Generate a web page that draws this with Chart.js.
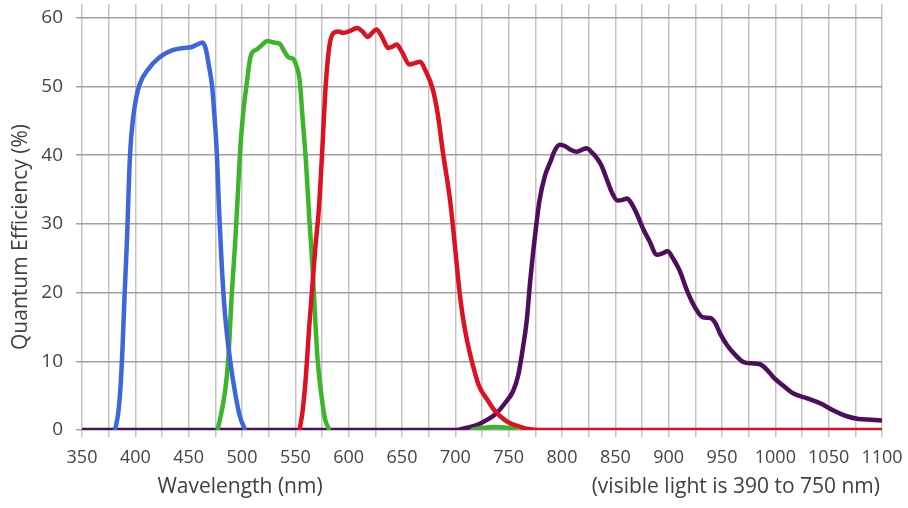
<!DOCTYPE html>
<html>
<head>
<meta charset="utf-8">
<script src="https://cdn.jsdelivr.net/npm/chart.js@4"></script>
<style>
  html, body { margin: 0; padding: 0; background: #fff; }
  #wrap { width: 908px; height: 508px; }
</style>
</head>
<body>
<div id="wrap"><canvas id="qeChart" width="908" height="508"></canvas></div>
<script>
// wavelength (nm) and quantum efficiency (%)
const blueNm = [381, 384, 386, 388, 390, 392, 395, 398, 401, 404, 411, 423, 435, 445, 452, 458, 463, 466, 469, 472, 474.5, 476.5, 478.5, 481, 484, 489, 494, 498, 503]
const blueQe = [0, 2.5, 6, 12, 20, 27, 40, 45.5, 48.5, 50.3, 52.3, 54.3, 55.3, 55.6, 55.7, 56.1, 56.4, 55.5, 53, 50, 45, 40, 32, 24, 17, 10, 5, 2, 0]

const greenNm = [477, 480, 484, 487, 490.5, 493.5, 496, 498, 501, 504.5, 507, 509, 514, 518.5, 524, 530, 535.5, 540, 544, 548, 551, 554, 557, 560, 563, 566, 568, 571, 575, 578, 582, 650, 715, 725, 738, 750, 758]
const greenQe = [0, 2, 5.5, 10, 20, 27, 34, 40, 46, 50.5, 53.5, 54.8, 55.4, 56, 56.6, 56.4, 56.2, 55, 54.2, 54, 53, 51, 45, 39, 31, 24, 18, 10, 4.4, 1.5, 0, null, 0, 0.3, 0.45, 0.3, 0]

const redNm = [554, 557, 560, 563, 566, 569, 572, 575, 578, 580.5, 583, 586, 590, 595, 600, 608, 613, 618, 622, 626, 631, 637, 641, 645, 650, 657, 662, 667, 672, 679, 684, 688, 695, 700, 704, 707, 711, 715.5, 722, 730, 736, 742, 750, 760, 770, 780, 1100]
const redQe = [0, 3, 8, 15, 21, 27, 32, 40, 49, 54, 56.8, 57.8, 58, 57.8, 58, 58.5, 58, 57.2, 57.8, 58.3, 57.3, 55.6, 55.8, 56.1, 55, 53.2, 53.4, 53.6, 52.3, 49.5, 45.5, 40.8, 33.5, 26.2, 20, 16.5, 13, 10, 6.5, 4.4, 3, 2, 1.1, 0.5, 0.1, 0, 0]

const purpleNm = [350, 700, 710, 720, 730, 739, 747, 754, 759, 763, 767, 770, 773, 776, 779, 784, 789, 793, 798, 803, 808, 814, 819, 823, 828, 833, 837, 842, 847, 852, 857, 861, 865, 870, 876, 882, 889, 894, 899, 904, 910, 918, 926, 932, 939, 944, 948, 955, 962, 970, 978, 985, 992, 998, 1007, 1017, 1030, 1042, 1055, 1067, 1078, 1090, 1100]
const purpleQe = [0, 0, 0.3, 0.7, 1.5, 2.5, 4, 5.6, 8, 11.6, 16, 21.4, 26, 30, 33.5, 37, 39, 40.6, 41.5, 41.3, 40.8, 40.5, 40.8, 41, 40.4, 39.5, 38.5, 36.5, 34.5, 33.4, 33.5, 33.7, 33, 31.5, 29.3, 27.5, 25.5, 25.7, 26, 25, 23.3, 20, 17.5, 16.4, 16.3, 15.5, 14.1, 12.3, 11, 9.9, 9.7, 9.6, 8.8, 7.7, 6.5, 5.3, 4.6, 3.9, 2.8, 2, 1.6, 1.5, 1.4]

const xMin = 350, xMax = 1100, xStep = 25, xLabelStep = 50
const yMin = 0, yMax = 62, yTickMax = 60, yStep = 10

const xTitle = "Wavelength (nm)"
const xNote = "(visible light is 390 to 750 nm)"
const yTitle = "Quantum Efficiency (%)"

const toPoints = (xs, ys) => xs.map((x, i) => ({ x: x, y: ys[i] }))

const fontFamily = "'Open Sans', 'Noto Sans', sans-serif"

// titles are placed by hand under the plot
const titlesPlugin = {
	id: "titles",
	afterDraw(chart) {
		const ctx = chart.ctx
		ctx.save()
		ctx.fillStyle = "#404040"
		ctx.font = "21px " + fontFamily
		ctx.textBaseline = "alphabetic"
		ctx.textAlign = "center"
		ctx.fillText(xTitle, 240, 493)
		ctx.textAlign = "right"
		ctx.fillText(xNote, 880, 493)
		ctx.translate(27, 237)
		ctx.rotate(-Math.PI / 2)
		ctx.textAlign = "center"
		ctx.fillText(yTitle, 0, 0)
		ctx.restore()
	},
}

const line = (pts, color, order) => ({
	data: pts,
	borderColor: color,
	borderWidth: 4.5,
	pointRadius: 0,
	fill: false,
	cubicInterpolationMode: "monotone",
	spanGaps: false,
	order: order,
})

new Chart(document.getElementById("qeChart").getContext("2d"), {
	type: "line",
	data: {
		datasets: [
			line(toPoints(redNm, redQe), "#dc1222", 0),
			line(toPoints(blueNm, blueQe), "#3d66dc", 1),
			line(toPoints(greenNm, greenQe), "#3cb52a", 2),
			line(toPoints(purpleNm, purpleQe), "#4f0d5e", 3),
		],
	},
	options: {
		responsive: false,
		animation: false,
		layout: { padding: { left: 0, right: 26, top: 4, bottom: 0 } },
		plugins: { legend: { display: false }, tooltip: { enabled: false } },
		scales: {
			x: {
				type: "linear",
				min: xMin,
				max: xMax,
				afterBuildTicks: (s) => {
					const t = []
					for (let v = xMin; v <= xMax; v += xStep) t.push({ value: v })
					s.ticks = t
				},
				afterFit: (s) => {
					s.height = 78
					s.paddingLeft = 0
					s.paddingRight = 0
				},
				border: { display: false },
				grid: { color: "#c4c4c4", lineWidth: 1.5, tickLength: 7 },
				ticks: {
					autoSkip: false,
					maxRotation: 0,
					padding: 10,
					color: "#444",
					font: { family: fontFamily, size: 18 },
					callback: (v) => (v % xLabelStep === 0 ? v : ""),
				},
			},
			y: {
				min: yMin,
				max: yMax,
				afterBuildTicks: (s) => {
					const t = []
					for (let v = yMin; v <= yTickMax; v += yStep) t.push({ value: v })
					s.ticks = t
				},
				afterFit: (s) => {
					s.width = 82
					s.paddingTop = 0
					s.paddingBottom = 0
				},
				border: { display: false },
				grid: { color: "#a0a0a0", lineWidth: 1.5, tickLength: 6 },
				ticks: {
					autoSkip: false,
					padding: 13,
					color: "#444",
					font: { family: fontFamily, size: 19 },
				},
			},
		},
	},
	plugins: [titlesPlugin],
})
</script>
</body>
</html>
